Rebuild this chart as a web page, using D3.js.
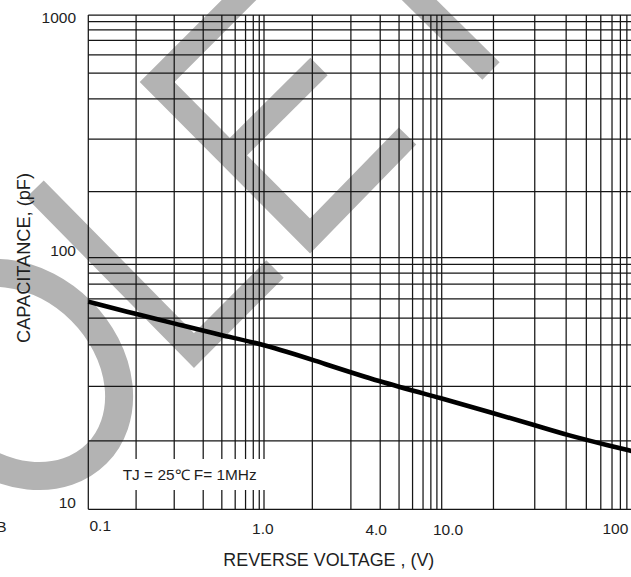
<!DOCTYPE html>
<html>
<head>
<meta charset="utf-8">
<script src="https://cdn.jsdelivr.net/npm/d3@7/dist/d3.min.js"></script>
<style>
  html, body { margin: 0; padding: 0; background: #fff; }
  svg { display: block; }
  text { font-family: "Liberation Sans", Arial, Helvetica, sans-serif; fill: #1e1e1e; }
</style>
</head>
<body>
<svg id="chart" width="631" height="577"></svg>
<script>
// ---- data ----
const voltage     = [0.1, 0.2, 0.3, 0.5, 1, 2, 4, 10, 20, 30, 40, 70, 100];          // V
const capacitance = [58.6, 52.1, 48.0, 43.5, 40.1, 36.4, 31.0, 27.8, 25.05, 22.9, 21.1, 19.2, 18.5]; // pF

const xTickValues = [0.1, 1, 4, 10, 100];
const xTickLabels = ["0.1", "1.0", "4.0", "10.0", "100"];
const yTickValues = [10, 100, 1000];
const yTickLabels = ["10", "100", "1000"];

const xTitle = "REVERSE VOLTAGE , (V)";
const yTitle = "CAPACITANCE, (pF)";
const noteText = "TJ = 25\u2103 F= 1MHz";

// printed pseudo-log chart paper: position of 1..10 inside one decade
const decadeFrac = [0, 0.272, 0.489, 0.654, 0.760, 0.836, 0.895, 0.939, 0.973, 1];

function paper(v) {
  const e = Math.floor(Math.log10(v) + 1e-9);
  const m = v / Math.pow(10, e);
  let i = Math.floor(m + 1e-9) - 1;
  if (i >= 9) return e + 1;
  const t = Math.max(0, m - 1 - i);
  return e + decadeFrac[i] + (decadeFrac[i + 1] - decadeFrac[i]) * t;
}

// ---- scales (decade index -> pixels) ----
const xs = d3.scaleLinear().domain([-1, 0, 1, 2]).range([88.3, 264, 441.7, 632]);
const ys = d3.scaleLinear().domain([1, 2, 3]).range([509.3, 257.7, 15]);
const X = v => xs(paper(v));
const Y = v => ys(paper(v));

const svg = d3.select("#chart");
svg.append("rect").attr("width", 631).attr("height", 577).attr("fill", "#fff");

// ---- watermark ----
const wm = svg.append("g").attr("fill", "none").attr("stroke", "#b3b3b3")
  .attr("stroke-width", 24.5).attr("stroke-linejoin", "miter").attr("stroke-linecap", "butt");
wm.append("ellipse").attr("transform", "translate(17.5,374.5) rotate(45)")
  .attr("rx", 112).attr("ry", 90).attr("stroke-width", 28);
wm.append("polyline").attr("points", "35,189 194,350.5 275,269");
wm.append("polyline").attr("points", "257,-18 157,82 310,236 407.5,136");
wm.append("line").attr("x1", 230).attr("y1", 155).attr("x2", 319).attr("y2", 66.5);
wm.append("line").attr("x1", 399).attr("y1", -20).attr("x2", 491).attr("y2", 71);

// ---- grid ----
const xGrid = [];
[-1, 0, 1].forEach(e => { for (let k = 1; k <= 9; k++) xGrid.push(+(k * Math.pow(10, e)).toPrecision(6)); });
xGrid.push(100);
const yGrid = [];
[1, 2].forEach(e => { for (let k = 1; k <= 9; k++) yGrid.push(+(k * Math.pow(10, e)).toPrecision(6)); });
yGrid.push(1000);

const [x0, x1] = [X(0.1), X(100)];
const [y0, y1] = [Y(10), Y(1000)];
const grid = svg.append("g").attr("stroke", "#151515").attr("stroke-width", 1.25);
grid.selectAll("line.v").data(xGrid).join("line").attr("class", "v")
  .attr("x1", d => X(d)).attr("x2", d => X(d)).attr("y1", y0).attr("y2", y1);
grid.selectAll("line.h").data(yGrid).join("line").attr("class", "h")
  .attr("y1", d => Y(d)).attr("y2", d => Y(d)).attr("x1", x0).attr("x2", x1);

// ---- note box ----
svg.append("rect").attr("x", 112).attr("y", 459).attr("width", 156).attr("height", 31).attr("fill", "#fff");
svg.append("text").attr("x", 122.7).attr("y", 480).attr("font-size", 14.5)
  .attr("textLength", 134).attr("lengthAdjust", "spacingAndGlyphs").text(noteText);

// ---- curve ----
const line = d3.line().x((d, i) => X(voltage[i])).y(d => Y(d)).curve(d3.curveBasis);
svg.append("path").datum(capacitance).attr("d", line)
  .attr("fill", "none").attr("stroke", "#000").attr("stroke-width", 4.6);

// ---- y tick labels ----
svg.selectAll("text.yl").data(yTickValues).join("text").attr("class", "yl")
  .attr("x", 76).attr("y", d => Math.max(Y(d) - 1.5, 22.7))
  .attr("text-anchor", "end").attr("font-size", 15.5)
  .text((d, i) => yTickLabels[i]);

// ---- x tick labels ----
const xLabelAnchor = ["start", "middle", "middle", "middle", "end"];
const xLabelDx = [1.2, -1.2, -4, 6.3, -3.7];
const xLabelBase = [531, 534.3, 534.8, 534.8, 533.5];
svg.selectAll("text.xl").data(xTickValues).join("text").attr("class", "xl")
  .attr("x", (d, i) => X(d) + xLabelDx[i]).attr("y", (d, i) => xLabelBase[i])
  .attr("text-anchor", (d, i) => xLabelAnchor[i]).attr("font-size", 15.5)
  .text((d, i) => xTickLabels[i]);

// ---- axis titles ----
svg.append("text").attr("x", 223.3).attr("y", 566).attr("font-size", 17.5)
  .attr("textLength", 211).attr("lengthAdjust", "spacingAndGlyphs").text(xTitle);
svg.append("text").attr("transform", "translate(29.5,258) rotate(-90)")
  .attr("text-anchor", "middle").attr("font-size", 17.5)
  .attr("textLength", 170).attr("lengthAdjust", "spacingAndGlyphs").text(yTitle);

// stray cut-off label at left edge (cut off in the reference as well)
svg.append("text").attr("x", 6.5).attr("y", 531.5).attr("text-anchor", "end")
  .attr("font-size", 15.5).text("B");
</script>
</body>
</html>
